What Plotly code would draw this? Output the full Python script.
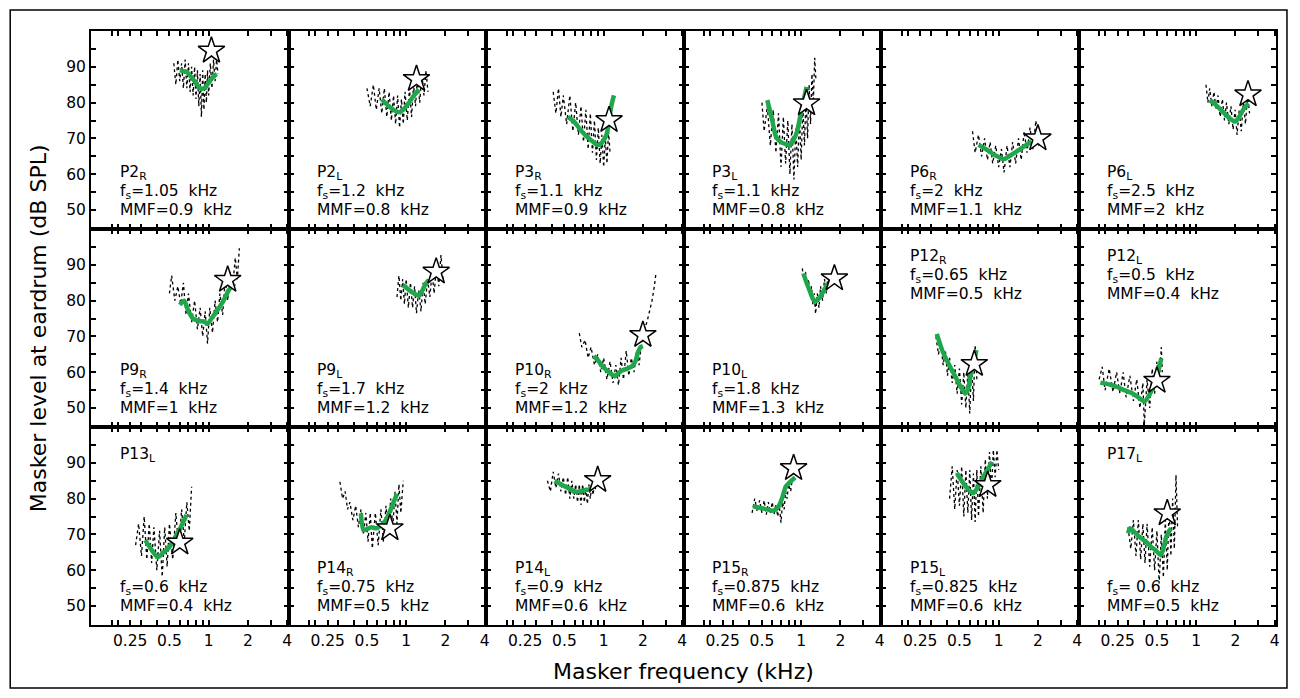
import math
import plotly.graph_objects as go
from plotly.subplots import make_subplots

# ---------------- data ----------------
panel_label = ["P2<sub>R</sub>", "P2<sub>L</sub>", "P3<sub>R</sub>", "P3<sub>L</sub>", "P6<sub>R</sub>", "P6<sub>L</sub>",
               "P9<sub>R</sub>", "P9<sub>L</sub>", "P10<sub>R</sub>", "P10<sub>L</sub>", "P12<sub>R</sub>", "P12<sub>L</sub>",
               "P13<sub>L</sub>", "P14<sub>R</sub>", "P14<sub>L</sub>", "P15<sub>R</sub>", "P15<sub>L</sub>", "P17<sub>L</sub>"]
fs_khz = ["1.05", "1.2", "1.1", "1.1", "2", "2.5", "1.4", "1.7", "2", "1.8", "0.65", "0.5",
          "0.6", "0.75", "0.9", "0.875", "0.825", "\u00a00.6"]
mmf_khz = ["0.9", "0.8", "0.9", "0.8", "1.1", "2", "1", "1.2", "1.2", "1.3", "0.5", "0.4",
           "0.4", "0.5", "0.6", "0.6", "0.6", "0.5"]
text_place = ["bottom"] * 10 + ["top", "top", "split", "bottom", "bottom", "bottom", "bottom", "split"]

star_freq = [1.05, 1.2, 1.1, 1.1, 2.0, 2.5, 1.4, 1.7, 2.0, 1.8, 0.65, 0.5, 0.6, 0.75, 0.9, 0.875, 0.825, 0.6]
star_level = [94.5, 86.6, 75.1, 79.8, 70.0, 82.3, 85.8, 88.1, 70.4, 86.2, 62.3, 57.6, 67.7, 71.7, 85.2, 88.5, 83.8, 75.9]

fit_freq = [
    [0.60, 0.68, 0.76, 0.84, 0.88, 0.94, 1.00, 1.07, 1.15],
    [0.65, 0.72, 0.80, 0.87, 0.95, 1.05, 1.15, 1.25],
    [0.53, 0.60, 0.65, 0.72, 0.80, 0.88, 0.93, 1.00, 1.05, 1.08, 1.12, 1.16, 1.20],
    [0.55, 0.60, 0.64, 0.70, 0.76, 0.81, 0.87, 0.93, 1.00, 1.05, 1.10],
    [0.70, 0.80, 0.90, 1.00, 1.09, 1.20, 1.35, 1.50, 1.65, 1.79],
    [1.27, 1.40, 1.55, 1.70, 1.85, 1.98, 2.10, 2.25, 2.40, 2.52],
    [0.60, 0.65, 0.70, 0.77, 0.85, 0.93, 0.98, 1.05, 1.17, 1.30, 1.43, 1.58],
    [0.95, 1.05, 1.15, 1.25, 1.32, 1.40, 1.49],
    [0.84, 0.92, 0.985, 1.10, 1.22, 1.32, 1.41, 1.52, 1.63, 1.75, 1.84, 1.92, 2.00],
    [1.04, 1.10, 1.17, 1.23, 1.28, 1.36, 1.45, 1.53, 1.60],
    [0.335, 0.37, 0.424, 0.47, 0.51, 0.553, 0.58, 0.607, 0.64, 0.675],
    [0.184, 0.22, 0.25, 0.28, 0.32, 0.36, 0.40, 0.45, 0.48, 0.51, 0.54],
    [0.326, 0.36, 0.406, 0.45, 0.49, 0.55, 0.61, 0.676],
    [0.449, 0.47, 0.50, 0.54, 0.59, 0.64, 0.70, 0.77, 0.85],
    [0.42, 0.47, 0.51, 0.56, 0.615, 0.68, 0.78, 0.85],
    [0.426, 0.46, 0.50, 0.55, 0.60, 0.64, 0.68, 0.72, 0.76, 0.83, 0.90],
    [0.477, 0.52, 0.57, 0.61, 0.64, 0.70, 0.76, 0.82, 0.89],
    [0.30, 0.31, 0.34, 0.37, 0.41, 0.45, 0.49, 0.534, 0.56, 0.59, 0.64],
]
fit_level = [
    [89, 88.5, 86.5, 84.3, 83.8, 84.3, 85.5, 87, 88],
    [80.9, 79.3, 78, 77.3, 78, 80, 82, 83.7],
    [76, 74.5, 72.8, 71, 69.5, 68.3, 68.2, 69.5, 71, 73, 77, 80, 82],
    [80.7, 75, 70.5, 69, 68.4, 68.2, 69.5, 71.9, 77.5, 81, 84.4],
    [68.2, 67, 65.7, 64.8, 64.2, 65, 66.2, 67.3, 68.3, 69.1],
    [80.7, 79.5, 78, 76.5, 75.3, 74.7, 75.5, 77.5, 79, 79.8],
    [78.8, 80, 77, 74.8, 74.3, 74.1, 73.5, 75, 77.4, 80, 83, 84.8],
    [84.4, 83, 82, 81.3, 82.5, 84.5, 85.8],
    [64.5, 63, 61.5, 60, 58.9, 60, 60.6, 61, 61.5, 63, 65.7, 67, 67.3],
    [87.6, 85, 82.5, 80.5, 79.7, 80.5, 82, 83.5, 84.8],
    [70.7, 66, 61.5, 58.5, 56, 54.1, 55, 58.7, 62, 66.2],
    [57.1, 56.5, 55.8, 55, 54.2, 53, 51.8, 54.5, 57, 60, 63.9],
    [68.4, 66, 63.6, 65, 66.1, 69, 72, 75.4],
    [75.9, 71.2, 71.5, 72, 71.7, 72.5, 74, 77.5, 81.3],
    [84.9, 84, 83.3, 82.5, 81.9, 82.2, 82.6, 84.3],
    [77.9, 77.6, 77.3, 77, 76.6, 77, 78.2, 80.5, 83.3, 84.8, 85.9],
    [87.2, 85, 83, 82, 81.5, 83.5, 86, 88, 90.3],
    [70.3, 71.7, 70.5, 69.2, 68, 66.6, 65.5, 64.2, 66, 69.4, 71.7],
]

dot_freq = [
    [0.54, 0.56, 0.58, 0.60, 0.62, 0.64, 0.66, 0.68, 0.70, 0.72, 0.74, 0.76, 0.78, 0.80, 0.82, 0.84, 0.86, 0.88, 0.90, 0.92, 0.94, 0.96, 0.98, 1.00, 1.03, 1.06, 1.09, 1.12, 1.15, 1.18],
    [0.50, 0.53, 0.56, 0.59, 0.62, 0.65, 0.68, 0.71, 0.74, 0.77, 0.80, 0.83, 0.86, 0.89, 0.92, 0.95, 0.98, 1.02, 1.06, 1.10, 1.14, 1.18, 1.22, 1.27, 1.32, 1.37, 1.42, 1.47],
    [0.41, 0.43, 0.45, 0.47, 0.49, 0.52, 0.55, 0.58, 0.61, 0.64, 0.67, 0.70, 0.73, 0.76, 0.79, 0.82, 0.85, 0.88, 0.91, 0.94, 0.97, 1.00, 1.03, 1.06, 1.09, 1.12],
    [0.50, 0.52, 0.55, 0.58, 0.61, 0.64, 0.67, 0.70, 0.73, 0.76, 0.79, 0.82, 0.85, 0.88, 0.91, 0.94, 0.97, 1.00, 1.03, 1.06, 1.09, 1.12, 1.15, 1.18, 1.21, 1.24, 1.27, 1.30],
    [0.63, 0.66, 0.70, 0.74, 0.78, 0.82, 0.86, 0.90, 0.95, 1.00, 1.05, 1.10, 1.16, 1.22, 1.28, 1.35, 1.42, 1.49, 1.57, 1.65, 1.74, 1.83, 1.93, 2.03, 2.14],
    [1.19, 1.23, 1.27, 1.32, 1.37, 1.42, 1.47, 1.53, 1.59, 1.65, 1.71, 1.78, 1.85, 1.92, 1.99, 2.06, 2.14, 2.22, 2.30, 2.39, 2.48, 2.57],
    [0.50, 0.52, 0.55, 0.58, 0.61, 0.64, 0.67, 0.70, 0.74, 0.78, 0.82, 0.86, 0.90, 0.94, 0.98, 1.02, 1.07, 1.12, 1.17, 1.22, 1.28, 1.34, 1.40, 1.46, 1.53, 1.60, 1.66, 1.72],
    [0.85, 0.88, 0.91, 0.94, 0.97, 1.00, 1.04, 1.08, 1.12, 1.16, 1.20, 1.25, 1.30, 1.35, 1.40, 1.46, 1.52, 1.58, 1.64, 1.71, 1.78, 1.85, 1.92],
    [0.65, 0.68, 0.72, 0.76, 0.80, 0.85, 0.90, 0.95, 1.00, 1.06, 1.12, 1.18, 1.24, 1.30, 1.36, 1.42, 1.49, 1.56, 1.63, 1.71, 1.79, 1.87, 1.95, 2.05, 2.15, 2.25, 2.35, 2.45, 2.52],
    [1.02, 1.05, 1.08, 1.11, 1.14, 1.17, 1.20, 1.23, 1.26, 1.29, 1.33, 1.37, 1.41, 1.46, 1.51, 1.56, 1.61, 1.66, 1.71, 1.76],
    [0.33, 0.345, 0.36, 0.375, 0.39, 0.405, 0.42, 0.44, 0.46, 0.48, 0.50, 0.52, 0.54, 0.56, 0.58, 0.60, 0.62, 0.64, 0.66, 0.68],
    [0.18, 0.19, 0.20, 0.215, 0.23, 0.245, 0.26, 0.275, 0.29, 0.31, 0.33, 0.35, 0.37, 0.39, 0.40, 0.42, 0.44, 0.46, 0.48, 0.50, 0.52, 0.54, 0.55],
    [0.275, 0.29, 0.305, 0.32, 0.335, 0.35, 0.365, 0.38, 0.40, 0.42, 0.44, 0.46, 0.48, 0.50, 0.53, 0.56, 0.59, 0.62, 0.65, 0.68, 0.71, 0.74],
    [0.31, 0.325, 0.34, 0.355, 0.37, 0.39, 0.41, 0.43, 0.45, 0.47, 0.49, 0.51, 0.53, 0.55, 0.58, 0.61, 0.64, 0.67, 0.70, 0.73, 0.76, 0.79, 0.82, 0.85, 0.88, 0.91, 0.95],
    [0.37, 0.39, 0.41, 0.43, 0.45, 0.47, 0.49, 0.51, 0.53, 0.55, 0.57, 0.59, 0.61, 0.63, 0.65, 0.67, 0.69, 0.71, 0.73, 0.75, 0.77, 0.79, 0.81, 0.83, 0.85, 0.87],
    [0.42, 0.44, 0.46, 0.48, 0.50, 0.52, 0.54, 0.56, 0.58, 0.60, 0.62, 0.64, 0.66, 0.68, 0.70, 0.72, 0.74, 0.76, 0.78, 0.80, 0.83, 0.86, 0.89],
    [0.42, 0.44, 0.46, 0.48, 0.50, 0.52, 0.54, 0.56, 0.58, 0.60, 0.62, 0.64, 0.66, 0.68, 0.70, 0.73, 0.76, 0.79, 0.82, 0.85, 0.88, 0.91, 0.94, 0.97, 1.00],
    [0.30, 0.315, 0.33, 0.345, 0.36, 0.375, 0.39, 0.405, 0.42, 0.44, 0.46, 0.48, 0.50, 0.52, 0.54, 0.56, 0.58, 0.60, 0.62, 0.64, 0.66, 0.68, 0.70, 0.72],
]
dot_level = [
    [91, 85, 92, 86, 91, 84, 92, 84, 91, 83, 90, 82, 90, 81, 89, 79, 88, 76, 89, 78, 88, 80, 89, 82, 91, 84, 92, 86, 92, 88],
    [84, 79, 85, 78, 84, 77, 84, 76, 83, 75, 82, 74, 82, 73, 81, 74, 83, 75, 84, 76, 85, 79, 87, 80, 88, 82, 89, 83],
    [83, 77, 84, 76, 82, 74, 82, 72, 80, 71, 79, 69, 78, 67, 77, 66, 75, 64, 73, 63, 71, 62, 70, 63, 72, 66],
    [80, 72, 79, 68, 78, 66, 77, 62, 76, 63, 75, 60, 74, 58.5, 73, 62, 76, 64, 79, 68, 82, 70, 85, 74, 88, 80, 92.5, 86],
    [72, 66, 71, 65, 70, 64, 69, 63, 68, 62, 67, 60.5, 68, 62, 69, 63, 70, 64, 72, 66, 73, 67, 75, 68, 70],
    [85, 80, 84, 79, 83, 78, 82, 76, 81, 75, 80, 74, 79, 72.5, 78, 71, 78, 72, 80, 74, 82, 77],
    [82, 87, 80, 84, 79, 85, 76, 82, 74, 80, 72, 78, 70, 77, 68, 78, 71, 80, 74, 82, 76, 86, 80, 88, 84, 92, 86, 94.6],
    [81, 87, 80, 86, 79, 86, 78, 85, 78, 84, 76.5, 83, 77, 85, 79, 86, 81, 88, 82, 90, 84, 92.7, 86],
    [70.9, 67, 69, 64, 67, 62, 65, 60, 64, 58, 63, 57, 62, 56.4, 64, 58, 66, 59, 64, 60, 66, 62, 68, 72, 74, 77, 80, 84, 87.6],
    [89, 86, 88, 84, 86, 81, 84, 79, 82, 76.3, 82, 78, 84, 80, 86, 82, 87, 84, 88, 86],
    [70, 65, 68, 62, 66, 59, 64, 57, 62, 54, 61, 51, 60, 50, 60, 48.5, 62, 52, 67.6, 58],
    [58, 61.5, 55, 61, 54.5, 60, 54, 60, 53, 59, 52, 58, 50, 57, 45.3, 58, 50, 61, 54, 63, 56, 67, 60],
    [67, 73, 64, 75, 63, 73, 62, 72, 60, 71, 58.2, 72, 61, 73, 63, 76, 66, 77, 68, 79, 71, 83.3],
    [84.7, 80, 82, 77, 79, 74, 78, 72, 77, 70, 76, 68, 76, 66.1, 76, 67, 77, 68, 78, 70, 80, 72, 82, 73, 84, 76, 85],
    [85, 82, 87.5, 83, 87, 82, 86, 81, 86, 80, 85, 80, 84, 79, 84, 78.2, 84, 79, 83, 78.5, 84, 80, 84, 81, 85, 82],
    [76, 80, 76.5, 79.5, 76, 79.5, 75.5, 79, 76, 79, 75.5, 78.5, 75, 78, 73.3, 79, 77, 82, 80, 84, 82, 86, 85],
    [80, 89, 77, 88, 78, 89, 75, 88, 76, 88, 74, 87, 73.5, 88, 75, 89, 76, 91, 80, 93, 82, 93.6, 86, 93.6, 88],
    [72, 66, 74, 64, 74, 63, 73, 62, 73, 61, 72, 60, 71, 56.3, 70, 58, 74, 60, 78, 64, 80, 66, 86.6, 72],
]

x_tickvals = [0.18, 0.2, 0.25, 0.3, 0.4, 0.5, 0.6, 0.7, 0.8, 0.9, 1, 2, 3, 4]
x_ticktext = ["", "", "0.25", "", "", "0.5", "", "", "", "", "1", "2", "", "4"]
y_tickvals = [50, 55, 60, 65, 70, 75, 80, 85, 90, 95]
y_ticktext = ["50", "", "60", "", "70", "", "80", "", "90", ""]

x_title = "Masker frequency (kHz)"
y_title = "Masker level at eardrum (dB SPL)"

# ---------------- figure ----------------
NR, NC = 3, 6
FONT = "DejaVu Sans"
GREEN = "#1fa84b"
PAGE = 8                      # default body margin of the html page
W, H = 1300 - 2 * PAGE, 698 - 2 * PAGE
ML, MT = 91 - PAGE, 31 - PAGE
MR = W - (1279 - PAGE)
MB = H - (625 - PAGE)
PW = (W - ML - MR) / NC
PH = (H - MT - MB) / NR

fig = make_subplots(rows=NR, cols=NC, horizontal_spacing=0, vertical_spacing=0)

for i in range(NR * NC):
    r, c = i // NC + 1, i % NC + 1
    fig.add_trace(go.Scatter(x=dot_freq[i], y=dot_level[i], mode="lines",
                             line=dict(color="black", width=1.3, dash="dot"),
                             showlegend=False, hoverinfo="skip"), row=r, col=c)
    fig.add_trace(go.Scatter(x=fit_freq[i], y=fit_level[i], mode="lines",
                             line=dict(color=GREEN, width=4.5, shape="spline", smoothing=0.6),
                             showlegend=False), row=r, col=c)
    fig.add_trace(go.Scatter(x=[star_freq[i]], y=[star_level[i]], mode="markers",
                             marker=dict(symbol="star", size=20, color="white",
                                         line=dict(color="black", width=1.5)),
                             showlegend=False), row=r, col=c)

    n = "" if i == 0 else str(i + 1)
    lines = [panel_label[i],
             "f<sub>s</sub>=" + fs_khz[i] + "\u00a0 kHz",
             "MMF=" + mmf_khz[i] + "\u00a0 kHz"]
    if text_place[i] == "bottom":
        offs = [142, 160.5, 179]
    elif text_place[i] == "top":
        offs = [28, 46.5, 65]
    else:
        offs = [28, 160.5, 179]
    for t, o in zip(lines, offs):
        fig.add_annotation(xref=f"x{n} domain", yref=f"y{n} domain",
                           x=27 / PW, y=1 - o / PH, xanchor="left", yanchor="middle",
                           text=t, showarrow=False,
                           font=dict(family=FONT, size=15.5, color="black"))

axis_common = dict(showline=True, linewidth=2, linecolor="black", mirror="allticks",
                   ticks="inside", ticklen=5, tickwidth=1.5, tickcolor="black",
                   showgrid=False, zeroline=False,
                   tickfont=dict(family=FONT, size=15.5, color="black"))

fig.update_xaxes(type="log", range=[math.log10(0.125), math.log10(4.1)],
                 tickvals=x_tickvals, ticktext=x_ticktext, **axis_common)
fig.update_yaxes(range=[44.7, 100], tickvals=y_tickvals, ticktext=y_ticktext, **axis_common)
for r in range(1, NR):
    fig.update_xaxes(showticklabels=False, row=r)
for c in range(2, NC + 1):
    fig.update_yaxes(showticklabels=False, col=c)

pw_total = W - ML - MR
ph_total = H - MT - MB
fig.add_annotation(xref="paper", yref="paper", x=0.5, y=(H - MB - (671 - PAGE)) / ph_total,
                   xanchor="center", yanchor="middle", text=x_title, showarrow=False,
                   font=dict(family=FONT, size=22, color="black"))
fig.add_annotation(xref="paper", yref="paper", x=((38 - PAGE) - ML) / pw_total, y=0.5,
                   xanchor="center", yanchor="middle", text=y_title, showarrow=False,
                   textangle=-90, font=dict(family=FONT, size=22, color="black"))

# outer frame
fig.add_shape(type="rect", xref="paper", yref="paper",
              x0=((10 - PAGE) - ML) / pw_total, x1=((1290 - PAGE) - ML) / pw_total,
              y0=(H - MB - (688 - PAGE)) / ph_total, y1=(H - MB - (10 - PAGE)) / ph_total,
              line=dict(color="black", width=1.5), fillcolor="rgba(0,0,0,0)")

fig.update_layout(width=W, height=H, margin=dict(l=ML, r=MR, t=MT, b=MB),
                  paper_bgcolor="white", plot_bgcolor="white", showlegend=False)

fig.write_html("out.html")
